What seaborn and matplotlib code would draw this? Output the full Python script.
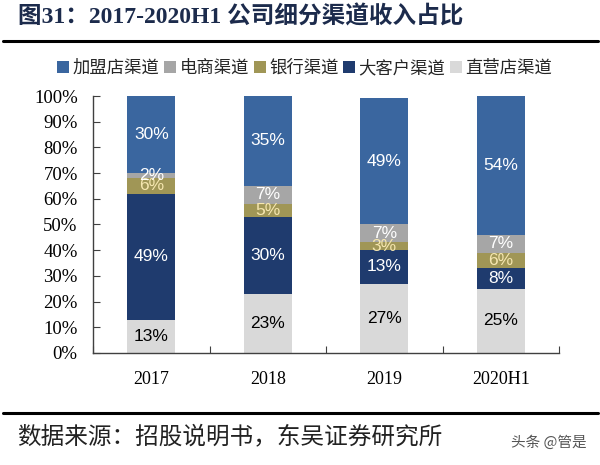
import matplotlib
matplotlib.use("Agg")
import matplotlib.pyplot as plt
import seaborn as sns
import numpy as np
from matplotlib.patches import Patch
from matplotlib.ticker import FixedLocator, PercentFormatter

# ---- data ----
categories = ["2017", "2018", "2019", "2020H1"]
series_names = ["加盟店渠道", "电商渠道", "银行渠道", "大客户渠道", "直营店渠道"]
franchise = [30, 35, 49.4, 54]
ecommerce = [2, 7, 7, 7]
bank = [6, 5, 3, 6]
key_client = [49, 30, 13, 8]
direct = [13, 23, 27, 25]
yticks = [0, 10, 20, 30, 40, 50, 60, 70, 80, 90, 100]

title_text = "图31：2017-2020H1 公司细分渠道收入占比"
source_text = "数据来源：招股说明书，东吴证券研究所"
watermark_text = "头条 @管是"

colors = {
    "加盟店渠道": "#3A669F",
    "电商渠道": "#A6A6A6",
    "银行渠道": "#A09656",
    "大客户渠道": "#1F3B6E",
    "直营店渠道": "#D9D9D9",
}
label_colors = {
    "加盟店渠道": "white",
    "电商渠道": "white",
    "银行渠道": "#F6E7B0",
    "大客户渠道": "white",
    "直营店渠道": "black",
}

sns.set_theme(style="white")
plt.rcParams["font.family"] = ["Noto Sans CJK SC", "DejaVu Sans"]
plt.rcParams["axes.unicode_minus"] = False

fig = plt.figure(figsize=(6.0, 4.65), dpi=100)
ax = fig.add_axes([0.155, 0.241, 0.777, 0.5525])

# stacking order bottom -> top
stack = [
    ("直营店渠道", direct),
    ("大客户渠道", key_client),
    ("银行渠道", bank),
    ("电商渠道", ecommerce),
    ("加盟店渠道", franchise),
]

bottom = np.zeros(len(categories))
for name, vals in stack:
    vals = np.array(vals, dtype=float)
    sns.barplot(x=categories, y=vals, bottom=bottom, color=colors[name],
                width=0.41, errorbar=None, ax=ax, saturation=1,
                linewidth=0, order=categories)
    for i, v in enumerate(vals):
        ax.text(i, bottom[i] + v / 2, f"{v:.0f}%", ha="center", va="center",
                color=label_colors[name], fontsize=12.5,
                family=["Liberation Sans", "DejaVu Sans"])
    bottom = bottom + vals

ax.set_xlim(-0.5, 3.5)
ax.set_ylim(0, 100)
ax.set_xlabel("")
ax.set_ylabel("")
ax.set_yticks(yticks)
ax.yaxis.set_major_formatter(PercentFormatter(100, decimals=0))
for s in ["top", "right"]:
    ax.spines[s].set_visible(False)
for s in ["left", "bottom"]:
    ax.spines[s].set_color("#404040")
    ax.spines[s].set_linewidth(1.0)

ax.tick_params(axis="y", direction="in", length=5, width=0.8, color="#404040",
               pad=11, labelsize=13.5, left=True)
ax.tick_params(axis="x", which="major", length=0, pad=13, labelsize=13)
ax.xaxis.set_minor_locator(FixedLocator([-0.5, 0.5, 1.5, 2.5, 3.5]))
ax.tick_params(axis="x", which="minor", direction="in", length=5, width=0.8,
               color="#404040", bottom=True)
for lab in ax.get_yticklabels() + ax.get_xticklabels():
    lab.set_family(["Liberation Serif", "DejaVu Serif"])
    lab.set_color("black")

# legend
handles = [Patch(facecolor=colors[n], edgecolor="none", label=n) for n in series_names]
fig.legend(handles=handles, loc="center", bbox_to_anchor=(0.508, 1 - 68 / 465),
           ncol=5, frameon=False, handlelength=0.7, handleheight=0.7,
           handletextpad=0.2, columnspacing=0.25,
           prop={"family": ["Noto Sans CJK SC"], "size": 12.5})

# title
fig.text(0.03, 1 - 17 / 465, title_text, ha="left", va="center", fontsize=17,
         fontweight="bold", color="#1C2B4C",
         family=["Liberation Serif", "Noto Sans CJK SC"])

# rules
fig.add_artist(plt.Line2D([0.005, 0.997], [1 - 41 / 465, 1 - 41 / 465],
                          color="black", linewidth=2.2, transform=fig.transFigure))
fig.add_artist(plt.Line2D([0.005, 0.997], [1 - 413 / 465, 1 - 413 / 465],
                          color="black", linewidth=2.2, transform=fig.transFigure))

# source
fig.text(0.028, 1 - 437 / 465, source_text, ha="left", va="center", fontsize=17,
         color="#222222", family=["Noto Sans CJK SC"])
fig.text(0.978, 1 - 443 / 465, watermark_text, ha="right", va="center", fontsize=10.5,
         color="#555555", family=["Noto Sans CJK SC"])

fig.savefig("out.png", dpi=100)
